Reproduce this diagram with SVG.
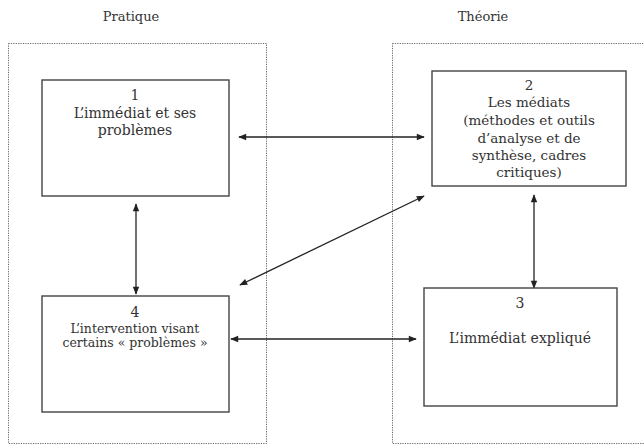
<svg xmlns="http://www.w3.org/2000/svg" width="644" height="446" viewBox="0 0 644 446">
<style>
text{font-family:"DejaVu Serif","Liberation Serif",serif;fill:#333;text-anchor:middle}
.t{font-size:14px}
.m{font-size:13.5px}
.s{font-size:12.5px}
.h{font-size:13px}
.panel{fill:none;stroke:#666;stroke-width:1;stroke-dasharray:1.2,1.2}
.box{fill:#fff;stroke:#444;stroke-width:1.4}
.c{stroke:#222;stroke-width:1.3;fill:none;marker-start:url(#a);marker-end:url(#a)}
</style>
<defs>
<marker id="a" viewBox="0 0 10 10" refX="9" refY="5" markerWidth="9" markerHeight="8" markerUnits="userSpaceOnUse" orient="auto-start-reverse">
<path d="M0,1 L10,5 L0,9 z" fill="#222"/>
</marker>
</defs>
<text class="h" x="131" y="21">Pratique</text>
<text class="h" x="483" y="21">Théorie</text>
<rect class="panel" x="8.5" y="43.5" width="258" height="400"/>
<rect class="panel" x="392.5" y="43.5" width="270" height="400"/>
<g id="connectors">
<line class="c" x1="239" y1="137" x2="424" y2="137"/>
<line class="c" x1="136" y1="204" x2="136" y2="294"/>
<line class="c" x1="240" y1="285" x2="424" y2="196"/>
<line class="c" x1="534" y1="195" x2="534" y2="288"/>
<line class="c" x1="231" y1="339" x2="416" y2="339"/>
</g>
<g id="n1">
<rect class="box" x="42" y="80" width="187" height="116"/>
<text class="t" x="135" y="100">1</text>
<text class="t" x="135" y="118">L’immédiat et ses</text>
<text class="t" x="135" y="135">problèmes</text>
</g>
<g id="n2">
<rect class="box" x="432" y="71" width="194" height="115"/>
<text class="m" x="529" y="90">2</text>
<text class="m" x="529" y="107">Les médiats</text>
<text class="m" x="529" y="125">(méthodes et outils</text>
<text class="m" x="529" y="143">d’analyse et de</text>
<text class="m" x="529" y="160">synthèse, cadres</text>
<text class="m" x="529" y="177">critiques)</text>
</g>
<g id="n3">
<rect class="box" x="424" y="288" width="193" height="118"/>
<text class="t" x="520" y="308">3</text>
<text class="t" x="520" y="343">L’immédiat expliqué</text>
</g>
<g id="n4">
<rect class="box" x="42" y="296" width="187" height="116"/>
<text class="t" x="135" y="317">4</text>
<text class="s" x="135" y="333">L’intervention visant</text>
<text class="s" x="135" y="347">certains « problèmes »</text>
</g>
</svg>
